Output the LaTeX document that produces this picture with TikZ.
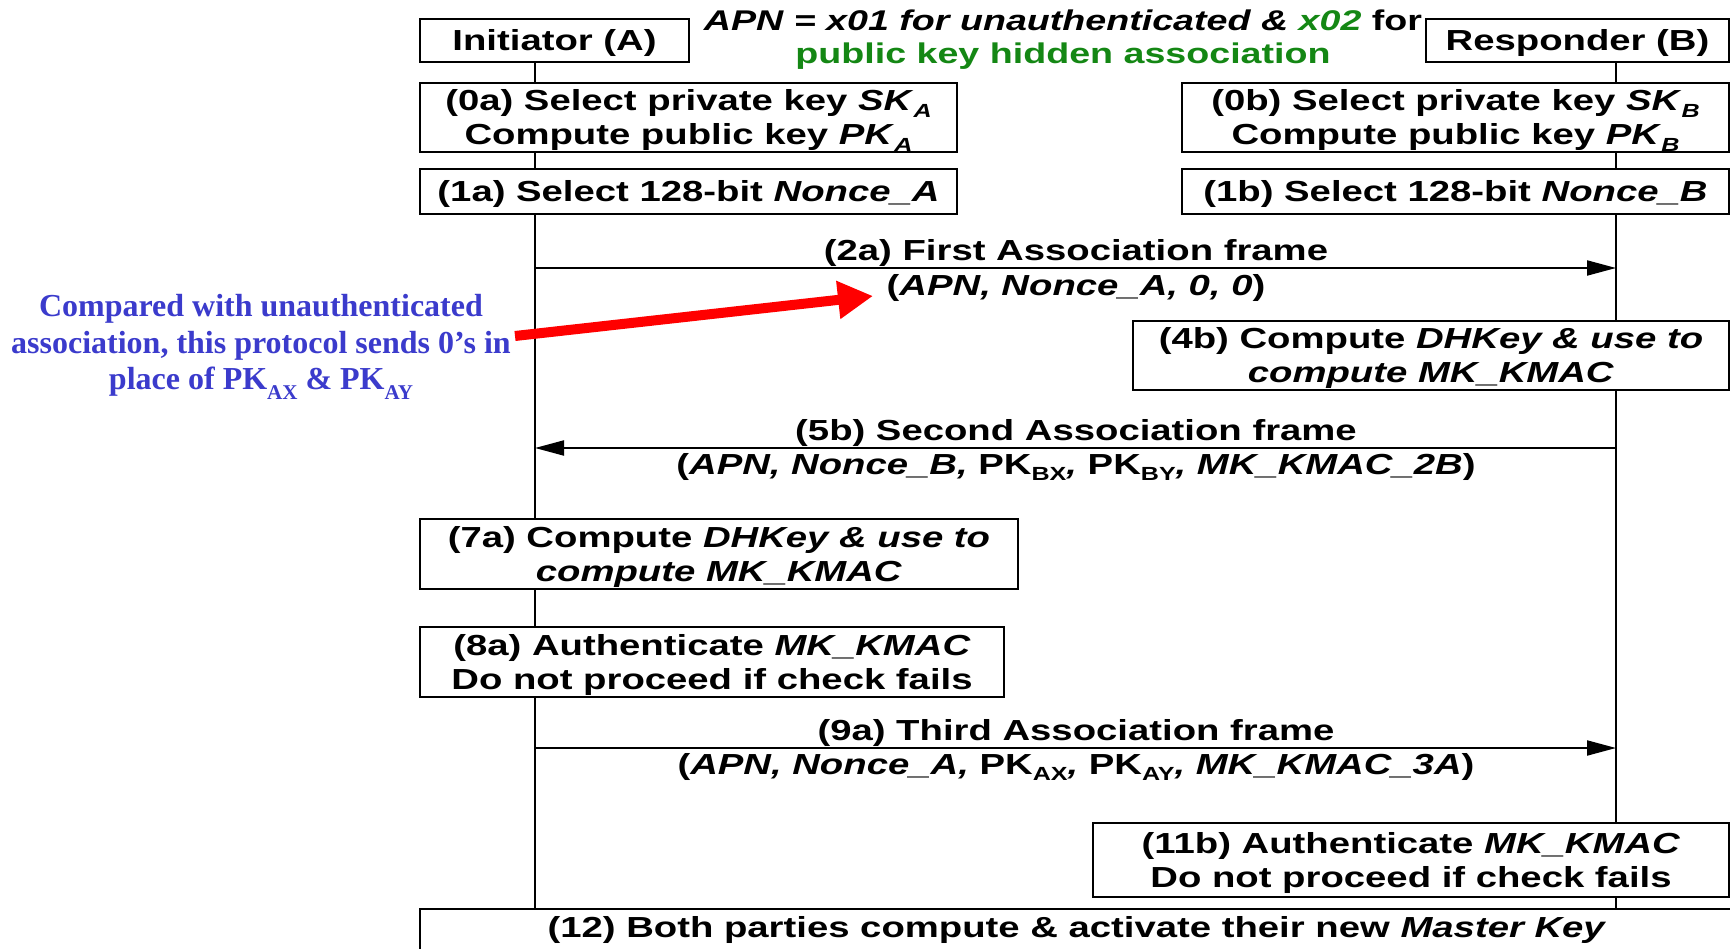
\documentclass[tikz,border=0pt]{standalone}
\usepackage{fontspec}
\setmainfont{Liberation Sans}
\newfontfamily\arl{Liberation Sans}[FakeStretch=1.32]
\newfontfamily\tms{Liberation Serif}
\usetikzlibrary{arrows.meta}
\definecolor{blueT}{RGB}{59,59,204}
\definecolor{greenT}{RGB}{20,135,20}
\newcommand\sbs[1]{\raisebox{-0.22em}{\fontsize{19}{19}\selectfont #1}}
\newcommand\sbsT[1]{\raisebox{-0.3em}{\fontsize{21}{21}\selectfont #1}}
\begin{document}
\begin{tikzpicture}[x=1pt,y=-1pt,
  txt/.style={font=\arl\bfseries\fontsize{29}{34}\selectfont, align=center, inner sep=0pt, yshift=-3pt},
  box/.style={draw, line width=1.8pt, inner sep=0pt},
  life/.style={line width=1.8pt},
  msg/.style={line width=2pt, -{Triangle[length=29pt,width=15pt]}},
]
\useasboundingbox (0,0) rectangle (1730,949);
\fill[white] (0,0) rectangle (1730,949);

% lifeline x positions
\coordinate (LA) at (535,0);
\coordinate (LB) at (1616,0);

% boxes
\node[box, minimum width=269pt, minimum height=43pt] (init) at (554.5,40.5) {};
\node[box, minimum width=303pt, minimum height=43pt] (resp) at (1577.5,40.5) {};
\node[box, minimum width=537pt, minimum height=69pt] (a0) at (688.5,117.5) {};
\node[box, minimum width=537pt, minimum height=45pt] (a1) at (688.5,191.5) {};
\node[box, minimum width=547pt, minimum height=69pt] (b0) at (1455.5,117.5) {};
\node[box, minimum width=547pt, minimum height=45pt] (b1) at (1455.5,191.5) {};
\node[box, minimum width=596pt, minimum height=69pt] (b4) at (1431,355.5) {};
\node[box, minimum width=598pt, minimum height=70pt] (a7) at (719,554) {};
\node[box, minimum width=584pt, minimum height=70pt] (a8) at (712,662) {};
\node[box, minimum width=636pt, minimum height=74pt] (b11) at (1411,860) {};
\node[box, minimum width=1314pt, minimum height=44pt] (all) at (1077,931) {};

% box texts
\node[txt] (initT) at (init.center) {Initiator (A)};
\node[txt] (respT) at (resp.center) {Responder (B)};
\node[txt] (a0T) at (a0.center) {(0a) Select private key \textit{SK}\sbs{\textit{A}}\\Compute public key \textit{PK}\sbs{\textit{A}}};
\node[txt] (a1T) at (a1.center) {(1a) Select 128-bit \textit{Nonce\_A}};
\node[txt] (b0T) at (b0.center) {(0b) Select private key \textit{SK}\sbs{\textit{B}}\\Compute public key \textit{PK}\sbs{\textit{B}}};
\node[txt] (b1T) at (b1.center) {(1b) Select 128-bit \textit{Nonce\_B}};
\node[txt] (b4T) at (b4.center) {(4b) Compute \textit{DHKey \& use to}\\\textit{compute MK\_KMAC}};
\node[txt] (a7T) at (a7.center) {(7a) Compute \textit{DHKey \& use to}\\\textit{compute MK\_KMAC}};
\node[txt] (a8T) at (a8.center) {(8a) Authenticate \textit{MK\_KMAC}\\Do not proceed if check fails};
\node[txt] (b11T) at (b11.center) {(11b) Authenticate \textit{MK\_KMAC}\\Do not proceed if check fails};
\node[txt] (allT) at (1077,927) {(12) Both parties compute \& activate their new \textit{Master Key}};

% lifelines
\draw[life] (LA |- init.south) -- (LA |- a0.north);
\draw[life] (LA |- a0.south) -- (LA |- a1.north);
\draw[life] (LA |- a1.south) -- (LA |- a7.north);
\draw[life] (LA |- a7.south) -- (LA |- a8.north);
\draw[life] (LA |- a8.south) -- (LA |- all.north);
\draw[life] (LB |- resp.south) -- (LB |- b0.north);
\draw[life] (LB |- b0.south) -- (LB |- b1.north);
\draw[life] (LB |- b1.south) -- (LB |- b4.north);
\draw[life] (LB |- b4.south) -- (LB |- b11.north);
\draw[life] (LB |- b11.south) -- (LB |- all.north);

% messages
\coordinate (m2A) at (535,268); \coordinate (m2B) at (1616,268);
\coordinate (m5A) at (535,448); \coordinate (m5B) at (1616,448);
\coordinate (m9A) at (535,748); \coordinate (m9B) at (1616,748);
\draw[msg] (m2A) -- (m2B);
\draw[msg] (m5B) -- (m5A);
\draw[msg] (m9A) -- (m9B);

\node[txt] (l2a) at (1076,250) {(2a) First Association frame};
\node[txt] (l2b) at (1076,285) {(\textit{APN, Nonce\_A, 0, 0})};
\node[txt] (l5a) at (1076,430) {(5b) Second Association frame};
\node[txt] (l5b) at (1076,464) {(\textit{APN, Nonce\_B,} PK\sbs{BX}\textit{,} PK\sbs{BY}\textit{, MK\_KMAC\_2B})};
\node[txt] (l9a) at (1076,730) {(9a) Third Association frame};
\node[txt] (l9b) at (1076,764) {(\textit{APN, Nonce\_A,} PK\sbs{AX}\textit{,} PK\sbs{AY}\textit{, MK\_KMAC\_3A})};

% title
\node[txt, font=\arl\bfseries\fontsize{28.5}{33}\selectfont] (title) at (1063,36.5)
  {\textit{APN = x01 for unauthenticated \& \textcolor{greenT}{x02}} for\\\textcolor{greenT}{public key hidden association}};

% note and red arrow
\node[font=\tms\bfseries\fontsize{32}{36.5}\selectfont, text=blueT, align=center, inner sep=0pt] (note) at (261,347)
  {Compared with unauthenticated\\association, this protocol sends 0’s in\\place of PK\sbsT{AX} \& PK\sbsT{AY}};
\coordinate (rs) at (515,336);
\coordinate (rt) at (873,296);
\draw[red, line width=10pt, -{Triangle[length=35pt,width=36pt]}] (rs) -- (rt);
\end{tikzpicture}
\end{document}
